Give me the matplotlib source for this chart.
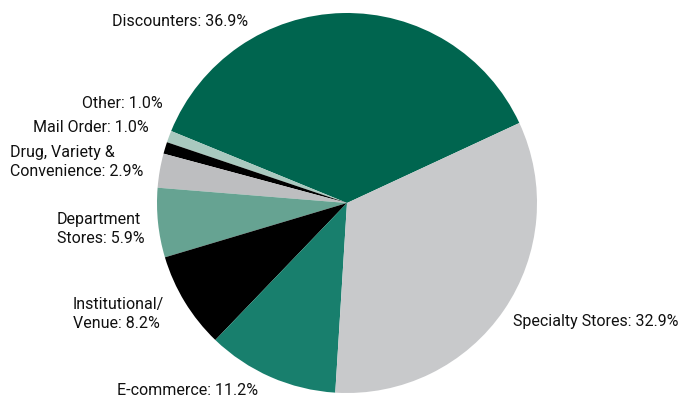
import matplotlib.pyplot as plt

# channel shares, counter-clockwise from the Discounters/Specialty boundary
channels = ['Discounters', 'Other', 'Mail Order', 'Drug, Variety &\nConvenience',
            'Department\nStores', 'Institutional/\nVenue', 'E-commerce', 'Specialty Stores']
shares = [36.9, 1.0, 1.0, 2.9, 5.9, 8.2, 11.2, 32.9]
colors = ['#00654F', '#A9C9BF', '#000000', '#BDBEC0',
          '#66A392', '#000000', '#187F6D', '#C8C9CB']

# label anchors in pixel coords (x, y, ha)
label_pos = [(112, 22, 'left'), (163, 103, 'right'), (149, 127, 'right'),
             (10, 162, 'left'), (57, 229, 'left'), (73, 314, 'left'),
             (117, 391, 'left'), (513, 322, 'left')]

plt.rcParams['font.family'] = ['Roboto', 'DejaVu Sans']

fig = plt.figure(figsize=(6.9, 4.02), dpi=100)
ax = fig.add_axes([0, 0, 1, 1])

ax.pie(shares, colors=colors, startangle=-24.9, counterclock=False,
       center=(347, 204), radius=190, frame=True,
       wedgeprops=dict(linewidth=0))
ax.set_xlim(0, 690)
ax.set_ylim(402, 0)
ax.set_aspect('equal')
ax.axis('off')

for name, val, (x, y, ha) in zip(channels, shares, label_pos):
    ax.text(x, y, f'{name}: {val:.1f}%', ha=ha, va='center',
            fontsize=11.5, color='#111111', linespacing=1.3)

fig.savefig('out.png', dpi=100)
